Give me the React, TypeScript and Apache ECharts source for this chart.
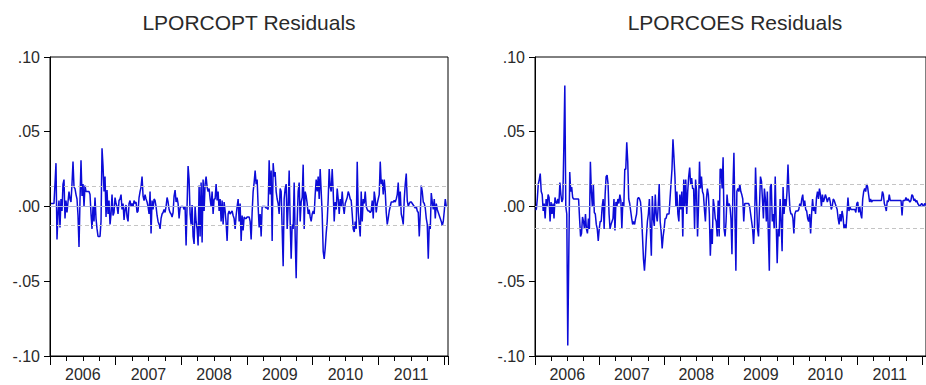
import React, { useEffect, useRef } from 'react';
import * as echarts from 'echarts';

const LEFT_TITLE = 'LPORCOPT Residuals';
const RIGHT_TITLE = 'LPORCOES Residuals';

// axis range (fractional years)
const X_MIN = 2006;
const X_MAX = 2012.0625;
const Y_MIN = -0.1;
const Y_MAX = 0.1;
const Y_STEP = 0.05;

// sampling of the residual series (fractional years)
const STEP = 1 / 65.6;
const LEFT_START = 2006.015;
const RIGHT_START = 2006.005;

// +/- one standard error bands
const LEFT_SE = [0.0133, -0.0125];
const RIGHT_SE = [0.0150, -0.0143];

const LPORCOPT = [
  .002,.002,.002,.002,.015,.029,-.022,-.005,.004,-.014,.005,-.003,.015,.018,-.008,.004,-.004,.003,.010,.005,
  .003,.015,.030,.013,.012,.008,.005,-.006,-.027,.004,.031,.007,.015,.000,.014,.010,.010,.010,.010,.008,
  -.005,-.015,.000,-.010,.006,-.008,-.015,-.020,-.020,-.020,-.010,.039,.027,.010,.020,-.007,.011,-.005,.004,-.012,
  -.005,.008,-.006,-.004,.006,.002,.000,-.005,.004,.005,.008,-.002,.002,-.009,-.002,.001,-.007,-.010,.002,.004,
  .000,.002,.000,.004,.002,.003,-.004,-.003,.006,.010,.013,.020,.007,.004,.008,.005,.003,.000,-.005,.010,
  -.018,.004,-.002,.005,.004,.000,-.006,-.010,-.012,-.015,-.008,-.005,-.004,-.002,-.004,.000,.006,.003,-.002,-.004,
  -.005,-.007,-.004,.007,.011,.003,.006,.002,-.008,-.001,.000,.000,.000,-.002,.000,-.026,.001,.027,.018,-.005,
  -.012,.001,-.020,-.025,.000,-.010,-.015,-.026,.014,-.020,.016,-.024,.018,-.003,.015,.020,.013,.010,.012,.005,
  .000,.010,-.005,.005,.005,.015,.004,.010,-.003,.005,-.010,.004,-.012,.003,-.003,-.011,-.023,-.005,-.003,-.005,
  -.004,-.003,-.006,-.008,-.015,-.006,.000,.005,-.010,.002,-.023,-.006,-.016,-.007,-.008,-.008,-.007,-.007,-.007,-.010,
  -.022,-.004,.010,.016,.024,.015,.018,.000,-.014,-.005,-.020,.000,.000,.000,.000,-.001,-.001,-.002,.031,.008,
  .024,-.023,.029,.020,.023,.010,.005,.002,-.005,.012,.010,-.015,-.040,.005,.012,.015,-.015,.000,.024,-.010,
  -.035,-.012,-.015,.016,-.020,-.048,-.010,.010,.016,-.010,.003,.006,.028,-.015,.010,.007,.002,-.005,-.002,-.007,
  -.010,-.005,-.003,-.005,.008,.018,.010,.020,.005,.025,.010,-.005,-.030,-.035,-.028,-.018,-.010,.005,.025,.013,
  .010,.025,.010,-.010,.003,-.002,.012,.005,-.005,.005,.000,.010,.000,-.005,.002,.004,.006,.010,.008,.005,
  .004,-.005,-.015,-.017,-.010,-.015,.030,-.003,-.012,-.020,.010,-.010,.005,.002,.010,.000,-.002,-.003,-.003,-.004,
  -.003,.004,-.008,.010,.005,-.004,.002,.005,.008,.030,.015,.018,.008,.018,.010,-.004,-.012,-.008,-.003,.000,
  .003,.003,.003,.004,.003,.005,.008,.016,.000,.010,-.005,-.008,-.012,.005,.015,.022,.004,.000,.002,.003,
  .003,.002,.001,.000,-.001,.000,-.003,-.004,-.020,-.005,.014,.010,.003,.002,-.001,-.008,-.012,-.035,-.012,-.015,
  .009,.003,-.002,.005,-.008,.002,-.002,-.004,-.006,-.008,-.010,-.013,-.010,-.003,.005,.000,
];

const LPORCOES = [
  -.002,-.002,.005,.015,.018,.022,.010,.008,-.003,.002,-.008,.005,.000,.008,.006,-.010,.003,-.005,.002,-.008,
  .006,.003,.002,.005,.002,.016,.008,.003,.005,.040,.081,.000,-.005,-.093,-.035,.023,.010,.013,.006,.005,
  .005,.005,.005,.005,.005,-.008,-.020,-.018,-.007,-.010,-.015,-.005,-.015,-.018,-.008,-.015,.030,.010,.000,.015,
  -.004,-.005,-.012,-.015,-.023,-.015,-.010,-.010,.000,.005,-.015,.008,.020,.021,.015,-.005,-.015,-.012,-.010,-.008,
  .005,-.016,.003,.000,.005,.002,.008,.004,-.015,.003,.000,.025,.025,.043,.030,.005,.002,-.003,-.008,-.012,
  -.010,-.012,-.008,-.005,.005,.006,.005,.003,-.005,-.020,-.035,-.043,-.033,-.020,-.010,-.005,.005,-.015,-.033,.007,
  -.008,-.013,.008,-.005,-.010,.000,.015,-.010,-.017,-.028,-.020,-.015,-.008,-.008,-.005,-.005,-.005,.005,.015,.025,
  .045,.033,.020,.000,.010,-.005,-.010,.008,-.002,.010,-.020,.018,.000,.018,-.005,.010,.020,.026,.015,.019,
  .012,.012,-.015,.018,.010,-.020,.000,.030,.012,.020,.010,.008,-.002,-.010,.005,.012,.008,-.005,-.033,-.015,
  -.025,.005,.000,-.008,-.010,-.020,.004,-.020,.025,.025,.012,.033,-.015,-.020,-.010,.008,.000,.002,.000,-.008,
  -.032,.012,.036,-.005,-.043,.010,.012,.010,.015,.010,.008,.005,-.010,.002,.002,.002,.002,.002,.000,-.005,
  -.010,-.015,-.025,-.012,.026,.005,-.015,-.020,.000,.020,.017,.005,-.008,.012,.005,-.010,.010,-.018,-.043,.013,
  .015,-.010,-.005,-.015,.020,-.010,-.038,-.015,-.020,.005,-.010,-.030,.013,-.005,.005,.000,.010,.028,.010,-.002,
  -.005,-.005,-.008,-.018,-.005,-.003,-.003,-.003,-.002,.002,.000,.005,.008,.000,.004,-.002,-.003,-.008,-.010,-.005,
  -.018,-.005,.005,-.003,.000,-.005,.006,.010,.005,.012,.008,.000,.008,.003,.005,.008,.006,.003,.005,.006,
  .003,-.002,.000,.005,.004,.002,.000,-.002,-.008,-.012,-.005,-.010,-.003,-.007,-.015,-.012,-.015,-.005,.006,-.003,
  .000,-.002,-.002,-.002,-.002,-.002,-.004,.002,.003,-.004,.000,-.005,-.008,.005,.010,.012,.010,.015,.013,.008,
  .003,.005,.003,.004,.004,.004,.004,.004,.004,.004,.004,.004,.004,.010,.008,.002,.000,-.003,.004,.003,
  .008,.004,.004,.004,.004,.004,.004,.004,.004,.004,.004,.004,.004,-.006,.004,.004,.004,.006,.004,.005,
  .004,.003,.004,.008,.007,.004,.005,.003,.004,.002,.001,.000,.001,.002,.001,.000,.002,.001,.002,.002,
];

const FONT = '"Liberation Sans", Arial, sans-serif';
const TEXT = '#2a2a2a';
const BLUE = '#0c0cd8';

const yFmt = (v: number) => {
  const s = Math.abs(v).toFixed(2).replace(/^0/, '');
  return v < -1e-9 ? '-' + s : s;
};

function toPoints(values: number[], start: number) {
  return values.map((v, i) => [start + i * STEP, v]);
}

export default function App() {
  const ref = useRef<HTMLDivElement>(null);
  useEffect(() => {
    if (!ref.current) return;
    const chart = echarts.init(ref.current, undefined, { renderer: 'svg' });
    const grids = [
      { left: 50, right: 478, top: 57, bottom: 29 },
      { left: 535, right: -7, top: 57, bottom: 29 },
    ];
    const xAxes: any[] = [];
    const yAxes: any[] = [];
    const series: any[] = [];
    const sets = [
      { data: LPORCOPT, start: LEFT_START, se: LEFT_SE },
      { data: LPORCOES, start: RIGHT_START, se: RIGHT_SE },
    ];
    sets.forEach((s, g) => {
      // tick axis (years major, quarters minor)
      xAxes.push({
        type: 'value', gridIndex: g, position: 'bottom', min: X_MIN, max: X_MAX, interval: 1,
        axisLine: { show: true, onZero: false, lineStyle: { color: '#000', width: 1 } },
        axisTick: { show: true, length: 9, lineStyle: { color: '#000', width: 1 } },
        minorTick: { show: true, splitNumber: 4, length: 5, lineStyle: { color: '#000', width: 1 } },
        axisLabel: { show: false },
        splitLine: { show: false },
      });
      // label axis (year names at mid-year)
      xAxes.push({
        type: 'value', gridIndex: g, position: 'bottom', min: X_MIN, max: X_MAX, interval: 0.5,
        axisLine: { show: false, onZero: false }, axisTick: { show: false }, splitLine: { show: false },
        axisLabel: {
          show: true, margin: 10, fontSize: 16, fontFamily: FONT, color: TEXT,
          showMinLabel: false, showMaxLabel: false,
          formatter: (v: number) => (Math.abs((v % 1) - 0.5) < 1e-6 ? String(Math.floor(v)) : ''),
        },
      });
      yAxes.push({
        type: 'value', gridIndex: g, position: 'left', min: Y_MIN, max: Y_MAX, interval: Y_STEP,
        axisLine: { show: true, onZero: false, lineStyle: { color: '#000', width: 1 } },
        axisTick: { show: true, inside: false, length: 6, lineStyle: { color: '#000', width: 1 } },
        axisLabel: { margin: 10, fontSize: 16, fontFamily: FONT, color: TEXT, formatter: yFmt },
        splitLine: { show: false },
      });
      series.push({
        type: 'line', xAxisIndex: g * 2, yAxisIndex: g, data: [], z: 1, silent: true,
        markLine: {
          silent: true, symbol: 'none', precision: 5, label: { show: false },
          data: [
            { yAxis: 0, lineStyle: { color: '#aab2dc', type: 'solid', width: 1 } },
            { yAxis: s.se[0], lineStyle: { color: '#c4c4c4', type: [4, 3], width: 1 } },
            { yAxis: s.se[1], lineStyle: { color: '#c4c4c4', type: [4, 3], width: 1 } },
          ],
        },
      });
      series.push({
        type: 'line', xAxisIndex: g * 2, yAxisIndex: g, z: 3,
        data: toPoints(s.data, s.start), showSymbol: false, symbol: 'none',
        lineStyle: { color: BLUE, width: 1.5 }, clip: true,
      });
    });
    chart.setOption({
      animation: false,
      backgroundColor: '#ffffff',
      grid: grids.map((g) => ({ ...g, show: true, borderColor: '#000', borderWidth: 1, backgroundColor: 'transparent' })),
      xAxis: xAxes,
      yAxis: yAxes,
      series,
      graphic: [
        { type: 'text', x: 249, y: 22, style: { text: LEFT_TITLE, font: `21px ${FONT}`, fill: TEXT, textAlign: 'center', textVerticalAlign: 'middle' } },
        { type: 'text', x: 735, y: 22, style: { text: RIGHT_TITLE, font: `21px ${FONT}`, fill: TEXT, textAlign: 'center', textVerticalAlign: 'middle' } },
      ],
    });
    return () => chart.dispose();
  }, []);
  return <div ref={ref} style={{ position: 'fixed', left: 0, top: 0, width: 926, height: 385, background: '#fff' }} />;
}
